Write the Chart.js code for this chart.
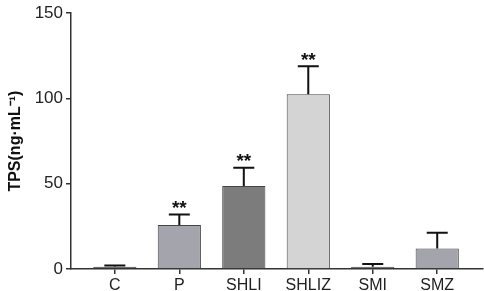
<!DOCTYPE html>
<html><head><meta charset="utf-8">
<script src="https://cdn.jsdelivr.net/npm/chart.js@4/dist/chart.umd.min.js"></script>
<style>html,body{margin:0;padding:0;background:#fff}#wrap{width:484px;height:291px}</style>
</head><body><div id="wrap"><canvas id="c"></canvas></div>
<script>
const categories = ["C", "P", "SHLI", "SHLIZ", "SMI", "SMZ"];
const means = [1.3, 25.8, 48.7, 102.5, 1.3, 12.0];
const errors = [0.7, 6.2, 10.7, 16.4, 1.6, 9.2];
const significance = ["", "**", "**", "**", "", ""];
const yTicks = [0, 50, 100, 150];
const fills = ["#3c3c3c", "#a4a4ac", "#7c7c7c", "#d4d4d4", "#4a4a4a", "#a4a4ac"];

const errPlugin = {
  id: "err",
  afterDatasetsDraw(chart) {
    const ctx = chart.ctx, xs = chart.scales.x, ys = chart.scales.y;
    ctx.save();
    ctx.strokeStyle = "#111"; ctx.lineWidth = 2;
    means.forEach((m, i) => {
      const x = xs.getPixelForValue(i);
      const y0 = ys.getPixelForValue(m);
      const y1 = ys.getPixelForValue(m + errors[i]);
      ctx.beginPath(); ctx.moveTo(x, y0); ctx.lineTo(x, y1);
      ctx.moveTo(x - 10.5, y1); ctx.lineTo(x + 10.5, y1); ctx.stroke();
      if (significance[i]) {
        ctx.fillStyle = "#111";
        ctx.font = "bold 19px 'Liberation Sans', Arial, sans-serif";
        ctx.textAlign = "center"; ctx.textBaseline = "alphabetic";
        ctx.fillText(significance[i], x, y1 - 0.5);
      }
    });
    ctx.restore();
  }
};

new Chart(document.getElementById("c"), {
  type: "bar",
  data: {
    datasets: [{
      data: means.map((v, i) => ({x: i, y: v})),
      backgroundColor: fills,
      borderColor: "#444",
      borderWidth: 1,
      barPercentage: 0.67,
      categoryPercentage: 1.0
    }]
  },
  options: {
    responsive: true, maintainAspectRatio: false, animation: false,
    layout: {padding: {top: 7, right: 1, left: 0, bottom: 0}},
    plugins: {legend: {display: false}, tooltip: {enabled: false}},
    scales: {
      x: {
        type: "linear", min: -0.68, max: 5.71, offset: false,
        afterBuildTicks(s) { s.ticks = categories.map((_, i) => ({value: i})); },
        afterFit(s) { s.height = 22; },
        grid: {display: true, offset: false, drawOnChartArea: false, drawTicks: true, tickLength: 5, color: "#333", lineWidth: 1.5},
        border: {display: true, color: "#333", width: 1.5},
        ticks: {
          callback: (v) => categories[v] ?? "",
          color: "#222", padding: 2, maxRotation: 0, autoSkip: false,
          font: {family: "'Liberation Sans', Arial, sans-serif", size: 16}
        }
      },
      y: {
        min: 0, max: 150,
        afterBuildTicks(s) { s.ticks = yTicks.map(v => ({value: v})); },
        afterFit(s) { s.width = 71; },
        grid: {display: true, drawOnChartArea: false, drawTicks: true, tickLength: 5, color: "#333", lineWidth: 1.5},
        border: {display: true, color: "#333", width: 1.5},
        ticks: {
          color: "#222", padding: 3,
          font: {family: "'Liberation Sans', Arial, sans-serif", size: 17}
        },
        title: {
          display: true, text: "TPS(ng·mL⁻¹)", color: "#111",
          padding: {top: 6, bottom: 0},
          font: {family: "'Liberation Sans', Arial, sans-serif", size: 16, weight: "bold"}
        }
      }
    }
  },
  plugins: [errPlugin]
});
</script></body></html>
